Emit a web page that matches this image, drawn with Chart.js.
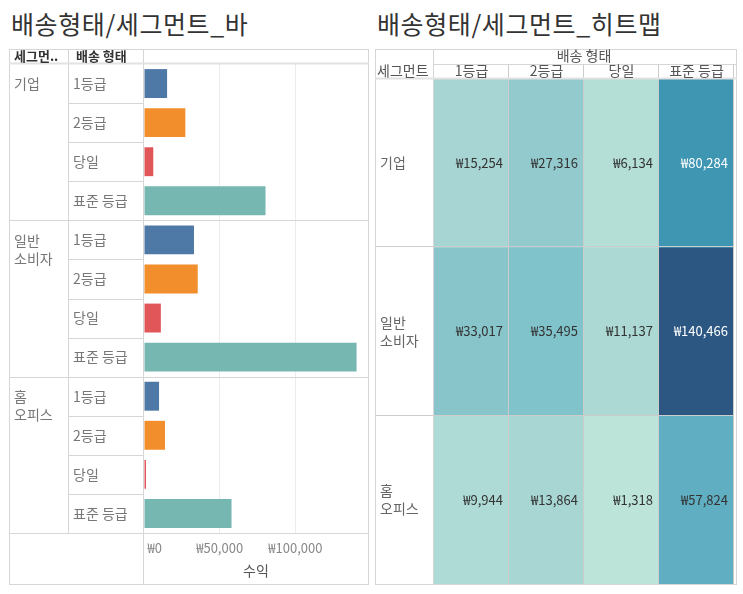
<!DOCTYPE html>
<html>
<head>
<meta charset="utf-8">
<script src="https://cdn.jsdelivr.net/npm/chart.js@4"></script>
<style>
  body { margin: 0; background: #fff; font-family: "Noto Sans CJK KR", sans-serif; }
  .title { position: absolute; top: 5px; font-size: 25px; letter-spacing: 0.6px; color: #333; white-space: nowrap; }
  canvas { position: absolute; }
</style>
</head>
<body>
<div class="title" style="left:11px">배송형태/세그먼트_바</div>
<div class="title" style="left:377px">배송형태/세그먼트_히트맵</div>
<canvas id="bar" width="360" height="536" style="left:9px;top:49px"></canvas>
<canvas id="heat" width="362" height="536" style="left:375px;top:49px"></canvas>
<script>
const segments = ['기업', '일반 소비자', '홈 오피스'];
const shipTypes = ['1등급', '2등급', '당일', '표준 등급'];
const revCorporate = [15254, 27316, 6134, 80284];
const revConsumer = [33017, 35495, 11137, 140466];
const revHomeOffice = [9944, 13864, 1318, 57824];
const xTicks = [0, 50000, 100000];

const typeColors = ['#4e79a7', '#f28e2b', '#e15759', '#76b7b2'];
const FONT = '"Noto Sans CJK KR", sans-serif';
const heatRows = [revCorporate, revConsumer, revHomeOffice];
const won = v => '\u20A9' + v.toLocaleString('en-US');

// bar chart rows: segment x ship type
const barLabels = [], barValues = [], barColors = [];
segments.forEach((s, si) => shipTypes.forEach((t, ti) => {
  barLabels.push(t);
  barValues.push(heatRows[si][ti]);
  barColors.push(typeColors[ti]);
}));

function hline(ctx, x1, x2, y) {
  ctx.beginPath(); ctx.moveTo(x1, Math.round(y) + 0.5); ctx.lineTo(x2, Math.round(y) + 0.5); ctx.stroke();
}
function vline(ctx, x, y1, y2) {
  ctx.beginPath(); ctx.moveTo(Math.round(x) + 0.5, y1); ctx.lineTo(Math.round(x) + 0.5, y2); ctx.stroke();
}

const barTable = {
  id: 'barTable',
  afterDraw(chart) {
    const { ctx, chartArea: a, width: W, height: H } = chart;
    const rowH = (a.bottom - a.top) / barLabels.length;
    ctx.save();
    ctx.strokeStyle = '#d6d6d6';
    ctx.lineWidth = 1;
    ctx.strokeRect(0.5, 0.5, W - 1, H - 1);
    vline(ctx, 59, 0, a.bottom);
    vline(ctx, a.left - 1, 0, H);
    for (let r = 1; r < barLabels.length; r++) {
      const y = a.top + r * rowH;
      if (r % 4 === 0) hline(ctx, 0, W, y);
      else hline(ctx, 59, a.left, y);
    }
    hline(ctx, 0, W, a.bottom);
    ctx.strokeStyle = '#e2e2e2';
    ctx.lineWidth = 2;
    hline(ctx, 0, W, a.top - 1);

    ctx.textBaseline = 'middle';
    ctx.fillStyle = '#333';
    ctx.font = 'bold 13px ' + FONT;
    ctx.fillText('세그먼..', 5, 7);
    ctx.fillText('배송 형태', 67, 7);

    ctx.font = '14px ' + FONT;
    ctx.fillStyle = '#777';
    barLabels.forEach((t, r) => ctx.fillText(t, 64, a.top + (r + 0.5) * rowH));
    segments.forEach((s, si) => {
      const top = a.top + si * 4 * rowH;
      s.split(' ').forEach((line, k) => ctx.fillText(line, 5, top + 20 + k * 18));
    });
    ctx.restore();
  }
};

new Chart(document.getElementById('bar'), {
  type: 'bar',
  data: {
    labels: barLabels,
    datasets: [{
      data: barValues,
      backgroundColor: barColors,
      barPercentage: 0.74,
      categoryPercentage: 1
    }]
  },
  options: {
    indexAxis: 'y',
    responsive: false,
    animation: false,
    layout: { padding: { left: 135, top: 15, right: 1, bottom: 1 } },
    plugins: { legend: { display: false }, tooltip: { enabled: false } },
    scales: {
      y: { display: false },
      x: {
        min: 0,
        max: 148000,
        afterBuildTicks: s => { s.ticks = xTicks.map(v => ({ value: v })); },
        afterFit: s => { s.height = 51; },
        grid: {
          color: c => (c.tick && c.tick.value === 0) ? 'rgba(0,0,0,0)' : '#ececec',
          drawTicks: false
        },
        border: { display: false },
        ticks: {
          padding: 7,
          color: '#888',
          font: { size: 13, family: FONT },
          callback: v => v === 0 ? '\u2007\u2007\u2007' + won(v) : won(v)
        },
        title: {
          display: true,
          text: '수익',
          color: '#555',
          font: { size: 14, family: FONT, weight: 'normal' },
          padding: { top: 0, bottom: 5 }
        }
      }
    }
  },
  plugins: [barTable]
});

// heatmap colour ramp (blue-teal)
const rampStops = [[0, '#bce4d8'], [0.1, '#a6d5d3'], [0.19, '#92cacd'], [0.25, '#80c2ca'],
                   [0.41, '#5eadc2'], [0.57, '#3e96b3'], [1, '#2c5783']];
const allVals = heatRows.flat();
const vMin = Math.min(...allVals), vMax = Math.max(...allVals);
function hexRgb(h) { return [1, 3, 5].map(i => parseInt(h.slice(i, i + 2), 16)); }
function rampRgb(v) {
  const t = (v - vMin) / (vMax - vMin);
  for (let i = 1; i < rampStops.length; i++) {
    if (t <= rampStops[i][0]) {
      const [t0, c0] = rampStops[i - 1], [t1, c1] = rampStops[i];
      const f = (t - t0) / (t1 - t0);
      const a = hexRgb(c0), b = hexRgb(c1);
      return a.map((x, k) => Math.round(x + (b[k] - x) * f));
    }
  }
  return hexRgb(rampStops[rampStops.length - 1][1]);
}
const rampColor = v => 'rgb(' + rampRgb(v).join(',') + ')';

const heatTable = {
  id: 'heatTable',
  afterDraw(chart) {
    const { ctx, chartArea: a, width: W, height: H, scales } = chart;
    const colW = (a.right - a.left) / shipTypes.length;
    const rowH = (a.bottom - a.top) / segments.length;
    ctx.save();
    // cell separators
    ctx.strokeStyle = '#cccccc';
    ctx.lineWidth = 1;
    for (let c = 1; c <= shipTypes.length; c++) vline(ctx, a.left + c * colW - 1, 15, a.bottom);
    for (let r = 1; r < segments.length; r++) hline(ctx, 0, a.right, a.top + r * rowH - 1);

    ctx.strokeStyle = '#d6d6d6';
    ctx.strokeRect(0.5, 0.5, W - 1, H - 1);
    vline(ctx, a.left - 1, 0, H);
    hline(ctx, a.left, W, 15);
    ctx.strokeStyle = '#e2e2e2';
    ctx.lineWidth = 2;
    hline(ctx, 0, W, a.top - 1);

    ctx.textBaseline = 'middle';
    ctx.font = '14px ' + FONT;
    ctx.fillStyle = '#555';
    ctx.textAlign = 'center';
    ctx.fillText('배송 형태', (a.left + a.right) / 2, 7);
    shipTypes.forEach((t, i) => ctx.fillText(t, scales.x.getPixelForValue(i), 22));
    ctx.textAlign = 'left';
    ctx.fillText('세그먼트', 2, 22);
    ctx.fillStyle = '#666';
    segments.forEach((s, si) => {
      const lines = s.split(' ');
      const cy = a.top + (si + 0.5) * rowH;
      lines.forEach((line, k) => ctx.fillText(line, 5, cy + (k - (lines.length - 1) / 2) * 18));
    });

    ctx.textAlign = 'right';
    ctx.font = '13px ' + FONT;
    heatRows.forEach((row, si) => row.forEach((v, ti) => {
      const [r, g, b] = rampRgb(v);
      const lum = 0.299 * r + 0.587 * g + 0.114 * b;
      ctx.fillStyle = lum < 140 ? '#fff' : '#333';
      ctx.fillText(won(v), a.left + (ti + 1) * colW - 6, a.top + (si + 0.5) * rowH);
    }));
    ctx.restore();
  }
};

new Chart(document.getElementById('heat'), {
  type: 'bar',
  data: {
    labels: shipTypes,
    datasets: heatRows.map((row, i) => ({
      label: segments[i],
      data: row.map(() => [i, i + 1]),
      backgroundColor: row.map(rampColor),
      borderWidth: 0,
      grouped: false,
      barPercentage: 1,
      categoryPercentage: 1
    }))
  },
  options: {
    responsive: false,
    animation: false,
    layout: { padding: { left: 59, top: 30, right: 3, bottom: 1 } },
    plugins: { legend: { display: false }, tooltip: { enabled: false } },
    scales: {
      x: { display: false },
      y: { display: false, min: 0, max: 3, reverse: true }
    }
  },
  plugins: [heatTable]
});
</script>
</body>
</html>
